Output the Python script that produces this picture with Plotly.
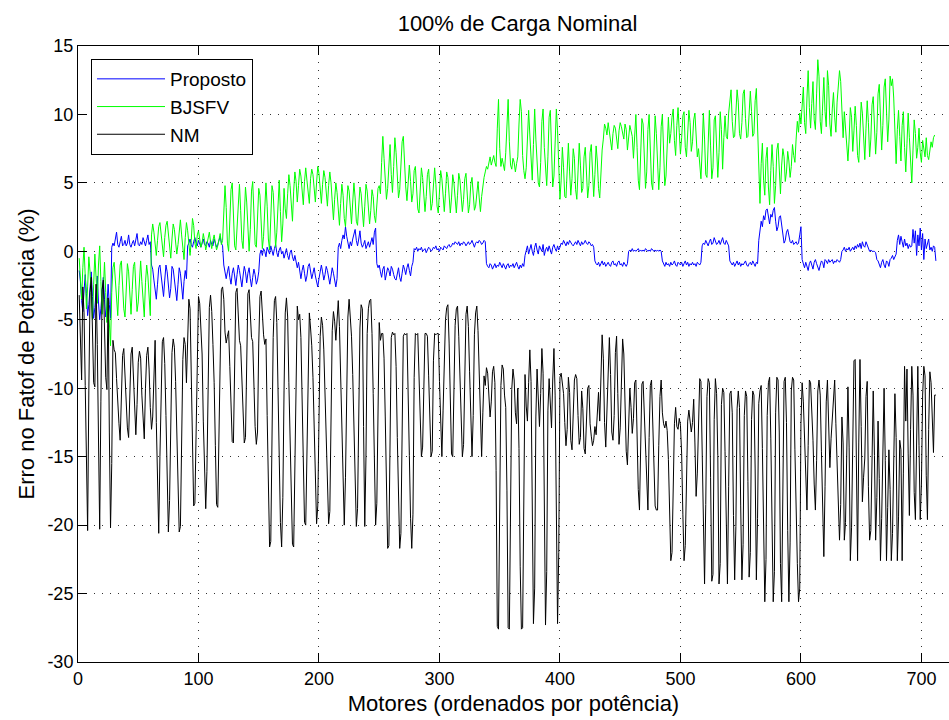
import plotly.graph_objects as go

TITLE = "100% de Carga Nominal"
XLABEL = "Motores (ordenados por potência)"
YLABEL = "Erro no Fatof de Potência (%)"
SERIES_NAMES = ["Proposto", "BJSFV", "NM"]
X_TICKS = [0, 100, 200, 300, 400, 500, 600, 700]
Y_TICKS = [-30, -25, -20, -15, -10, -5, 0, 5, 10, 15]
Y_TICK_LABELS = ["-30", "-25", "-20", "-15", "-10", "-5", "0", "5", "10", "15"]

proposto = [
    -1.4, -2.2, -3.6, -4.4, -2.9, -1.7, -3.1, -4.7, -3.9, -2.3,
    -1.5, -3.3, -4.9, -4.1, -2.6, -1.8, -3.7, -5.0, -4.2, -2.7,
    -1.9, -3.5, -4.8, -4.0, -2.4, -3.9, -4.9, 0.3, 0.6, 0.4,
    0.9, 1.4, 0.5, 0.3, 0.7, 1.1, 0.4, 0.5, 0.8, 0.4,
    0.6, 1.2, 0.5, 0.3, 0.6, 0.8, 0.4, 0.9, 1.3, 0.5,
    0.4, 0.7, 0.5, 1.0, 0.6, 0.4, 0.8, 1.2, 0.5, 0.7,
    -1.0, -1.3, -2.1, -3.0, -3.5, -2.4, -1.2, -1.0, -1.8, -2.6,
    -3.3, -2.1, -1.0, -1.5, -2.5, -3.4, -2.7, -1.1, -1.3, -2.2,
    -3.0, -3.6, -2.4, -1.2, -1.6, -2.8, -3.5, -2.2, -1.4, -2.0,
    0.4, 0.6, 0.9, 0.5, 0.3, 0.7, 1.0, 0.6, 0.4, 0.8,
    0.5, 0.3, 0.6, 0.9, 0.5, 0.4, 0.7, 0.6, 0.3, 0.8,
    0.5, 0.4, 0.9, 0.6, 0.3, 0.5, 0.8, 1.1, 0.6, 0.4,
    -1.0, -1.4, -2.0, -1.5, -1.1, -1.9, -2.4, -1.6, -1.2, -1.8,
    -2.5, -1.7, -1.0, -1.4, -2.2, -2.6, -1.8, -1.1, -1.5, -2.3,
    -1.6, -1.2, -2.0, -2.6, -1.9, -1.3, -1.7, -2.4, -2.1, -1.5,
    -0.2, 0.1, -0.3, 0.2, 0.0, -0.4, 0.3, 0.1, -0.2, 0.4,
    0.0, -0.3, 0.2, 0.5, -0.1, -0.4, 0.1, 0.3, -0.2, 0.0,
    -0.5, -0.2, 0.2, -0.3, -0.6, -0.1, 0.1, -0.4, -0.7, -0.3,
    -0.9, -1.2, -0.8, -1.5, -2.0, -1.4, -1.0, -1.6, -2.2, -1.8,
    -1.1, -0.9, -1.4, -2.0, -1.6, -1.2, -1.8, -2.3, -2.6, -2.0,
    -1.3, -1.0, -1.5, -2.1, -1.7, -1.1, -1.4, -2.0, -2.4, -1.8,
    -1.2, -1.6, -2.2, -2.6, -2.0, 0.3, 0.6, 0.2, 0.8, 1.2,
    0.9, 1.8, 1.1, 0.5, 0.2, 0.7, 0.4, 0.9, 1.3, 1.6,
    0.8, 0.4, 0.9, 1.5, 0.6, 0.3, 0.5, 0.8, 0.2, 0.4,
    0.7, 0.3, 0.6, 1.0, 0.5, 1.4, 1.7, -0.9, -1.2, -1.0,
    -1.5, -1.9, -1.3, -1.1, -2.1, -1.6, -1.2, -1.4, -1.8, -1.1,
    -1.3, -1.7, -2.0, -2.1, -1.5, -1.2, -1.9, -2.2, -1.6, -1.0,
    -1.3, -1.7, -1.2, -0.9, -1.4, -1.8, -1.1, -0.8, 0.2, 0.1,
    0.3, 0.0, 0.2, 0.1, 0.3, 0.0, 0.1, 0.2, -0.1, 0.1,
    0.3, 0.2, 0.0, 0.1, 0.3, 0.2, 0.4, 0.1, 0.2, 0.0,
    0.3, 0.2, 0.1, 0.4, 0.3, 0.2, 0.4, 0.5, 0.3, 0.4,
    0.6, 0.5, 0.7, 0.6, 0.5, 0.7, 0.4, 0.6, 0.5, 0.7,
    0.6, 0.4, 0.6, 0.7, 0.5, 0.6, 0.8, 0.5, 0.3, 0.6,
    0.7, 0.6, 0.8, 0.7, 0.5, 0.6, 0.8, 0.7, -0.9, -1.1,
    -1.2, -0.9, -1.0, -1.3, -1.1, -0.9, -1.2, -1.0, -1.1, -0.8,
    -1.0, -1.2, -0.9, -1.1, -1.3, -1.0, -0.9, -1.2, -1.0, -1.1,
    -0.9, -1.2, -1.0, -0.8, -1.1, -1.3, -1.0, -1.2, -0.9, -1.1,
    -0.3, 0.1, 0.4, -0.2, 0.2, 0.5, 0.0, -0.3, 0.3, 0.6,
    0.1, -0.2, 0.4, 0.2, 0.0, 0.5, -0.3, 0.1, 0.3, 0.0,
    0.4, 0.1, -0.2, 0.3, 0.5, 0.2, 0.0, 0.4, 0.1, 0.3,
    0.6, 0.5, 0.8, 0.6, 0.4, 0.7, 0.5, 0.8, 0.6, 0.5,
    0.4, 0.6, 0.7, 0.5, 0.8, 0.6, 0.4, 0.7, 0.5, 0.6,
    0.8, 0.6, 0.5, 0.7, 0.6, 0.4, 0.5, 0.3, -0.7, -0.9,
    -1.0, -0.8, -1.1, -0.9, -0.7, -1.0, -0.8, -1.1, -0.9, -0.8,
    -1.0, -1.1, -0.8, -0.7, -1.0, -0.9, -1.1, -0.8, -0.7, -1.0,
    -0.9, -1.1, -0.8, -1.0, -1.1, -0.9, 0.0, 0.1, 0.0, 0.2,
    0.0, 0.1, 0.0, 0.1, 0.2, 0.0, 0.1, 0.0, 0.1, 0.0,
    0.2, 0.1, 0.0, 0.1, 0.0, 0.2, 0.1, 0.0, 0.1, 0.0,
    0.1, 0.0, 0.1, 0.0, -0.7, -0.9, -1.1, -0.8, -1.0, -0.9,
    -1.1, -0.8, -1.0, -0.9, -0.7, -1.0, -1.1, -0.8, -0.9, -1.0,
    -0.8, -1.1, -0.9, -0.7, -1.0, -0.8, -1.1, -0.9, -1.0, -0.8,
    -1.0, -0.9, -1.1, -0.8, -0.9, -1.0, -0.8, 0.4, 0.6, 0.5,
    0.8, 0.6, 0.4, 0.7, 0.9, 0.5, 0.6, 1.0, 0.7, 0.5,
    0.6, 0.8, 0.5, 0.7, 1.0, 0.6, 0.5, 0.8, 0.6, 0.4,
    -0.7, -0.9, -1.0, -0.8, -1.1, -0.9, -0.7, -1.0, -0.8, -1.1,
    -0.9, -1.0, -0.8, -0.7, -1.0, -1.1, -0.9, -0.8, -1.0, -0.7,
    -0.9, -1.1, -0.8, -0.9, 0.8, 1.5, 2.2, 1.8, 2.6, 2.3,
    3.0, 3.1, 2.4, 2.0, 2.7, 2.5, 3.0, 3.2, 2.2, 1.5,
    1.8, 2.5, 2.6, 1.9, 1.2, 0.6, 0.8, 1.4, 1.6, 1.0,
    0.7, 0.6, 0.8, 0.5, 0.6, 0.7, 0.5, 0.6, 1.2, 1.8,
    -0.6, -0.9, -1.2, -0.8, -1.1, -1.4, -0.9, -0.7, -1.0, -1.3,
    -0.8, -0.6, -0.9, -1.1, -1.4, -1.0, -0.7, -0.8, -1.2, -0.6,
    -0.7, -0.9, -0.6, -0.8, -0.7, -0.6, -0.9, -0.7, -0.8, -0.6,
    -0.7, -0.8, -0.6, 0.0, 0.1, 0.3, 0.0, 0.2, 0.1, 0.3,
    0.0, 0.2, 0.3, 0.1, 0.4, 0.2, 0.5, 0.3, 0.6, 0.2,
    0.7, 0.4, 0.3, 0.7, 0.5, 0.2, 0.0, 0.1, 0.0, 0.0,
    0.0, -0.1, -0.6, -0.7, -0.9, -1.2, -0.8, -0.6, -1.0, -1.2,
    -0.7, -0.8, -1.1, -0.6, -0.5, -0.3, -0.6, -0.4, -0.2, 0.8,
    1.2, 0.5, 1.1, 0.7, 0.3, 0.9, 0.4, 0.6, 0.2, 0.5,
    0.3, 0.4, 1.6, 0.6, 1.5, -0.3, 1.2, 0.4, 1.7, 0.1,
    1.3, -0.6, 0.9, 0.2, 0.5, 0.9, 0.1, 0.3, 0.0, 0.4,
    0.3, -0.7,
]

bjsfv = [
    -0.5, -2.0, -3.5, -1.2, 0.3, -1.8, -4.2, -2.6, -0.4, -1.5,
    -3.3, -5.0, -2.4, -0.2, -1.9, -3.8, -1.0, 0.4, -2.2, -4.6,
    -2.8, -0.8, -3.0, -5.2, -3.5, -5.8, -6.9, -3.0, -1.2, -0.8,
    -2.0, -3.6, -4.7, -2.5, -1.0, -0.7, -2.4, -4.2, -4.8, -2.1,
    -0.9, -1.5, -3.1, -4.6, -2.8, -1.1, -0.8, -2.6, -4.4, -3.7,
    -1.6, -0.7, -2.2, -4.0, -4.8, -2.3, -1.0, -1.8, -3.5, -4.7,
    1.2, 2.0, 1.4, 0.6, -0.3, 0.8, 1.8, 2.1, 1.1, 0.2,
    -0.4, 1.0, 1.9, 2.2, 1.3, 0.4, -0.5, 0.9, 2.0, 1.6,
    0.7, -0.2, 0.5, 1.7, 2.3, 1.2, 0.3, -0.6, 1.0, 2.1,
    1.5, 0.5, -0.3, 0.8, 2.4, 1.9, 0.6, 0.2, 1.2, 1.5,
    0.9, 0.3, 0.6, 1.3, 0.8, 0.1, 0.5, 1.1, 1.4, 0.7,
    0.2, 0.8, 1.2, 0.6, 0.1, 0.4, 1.0, 1.3, 0.5, 0.8,
    2.8, 4.8, 3.2, 0.6, 0.0, 2.1, 4.5, 5.0, 2.6, 0.4,
    0.1, 1.8, 4.2, 4.9, 3.0, 0.8, 0.2, 2.5, 4.7, 3.6,
    1.2, 0.0, 1.6, 4.4, 5.1, 2.8, 0.5, 0.3, 2.2, 4.6,
    4.1, 1.6, 0.2, 1.1, 3.9, 5.0, 3.3, 0.9, 0.1, 2.4,
    4.8, 4.3, 1.8, 0.3, 1.4, 4.0, 5.2, 2.9, 0.7, 2.0,
    4.6, 3.1, 2.4, 4.2, 5.6, 4.8, 3.0, 2.2, 4.4, 5.8,
    5.1, 3.6, 4.8, 6.0, 5.5, 4.2, 3.4, 5.1, 6.1, 5.2,
    4.0, 3.5, 5.3, 6.0, 5.6, 4.4, 3.6, 5.0, 6.2, 5.7,
    4.6, 3.5, 4.9, 5.9, 5.4, 4.1, 3.3, 4.8, 5.8, 5.0,
    3.2, 2.3, 3.8, 5.0, 4.3, 2.6, 1.9, 3.5, 4.9, 4.1,
    2.4, 1.8, 3.2, 4.8, 4.4, 2.7, 2.0, 3.6, 5.0, 3.9,
    2.2, 1.9, 3.4, 4.7, 4.2, 2.5, 1.8, 3.3, 4.9, 4.4,
    2.8, 2.0, 3.0, 4.5, 4.0, 2.6, 2.1, 3.2, 4.6, 4.8,
    4.2, 6.5, 8.4, 6.8, 4.9, 3.8, 4.6, 6.9, 7.8, 5.6,
    4.3, 6.2, 8.3, 7.2, 5.1, 3.9, 4.5, 6.6, 8.0, 8.4,
    6.1, 4.7, 3.7, 4.9, 6.3, 5.1, 3.6, 4.2, 5.9, 6.2,
    4.8, 3.1, 2.8, 4.5, 6.1, 5.4, 3.7, 2.9, 4.0, 5.6,
    6.0, 4.4, 3.0, 3.5, 5.2, 6.1, 4.9, 3.3, 2.8, 4.6,
    5.9, 5.3, 3.6, 2.9, 4.2, 5.8, 5.4, 3.8, 2.8, 3.9,
    5.6, 5.0, 3.5, 2.8, 4.1, 5.7, 5.2, 3.6, 2.9, 3.8,
    5.3, 5.7, 4.0, 2.8, 3.4, 4.9, 5.4, 4.2, 3.0, 3.3,
    4.6, 5.1, 3.9, 2.9, 4.0, 5.0, 5.4, 5.8, 6.2, 6.0,
    6.6, 6.9, 6.3, 6.7, 7.0, 6.5, 6.2, 9.0, 11.1, 7.5,
    6.2, 6.8, 6.4, 5.9, 7.2, 9.5, 11.1, 8.0, 6.3, 6.0,
    6.8, 6.5, 5.8, 6.4, 6.9, 9.3, 11.1, 10.2, 7.0, 5.9,
    5.3, 6.1, 8.7, 10.3, 8.5, 6.4, 5.2, 7.8, 10.4, 8.2,
    6.1, 5.0, 4.7, 6.5, 9.5, 10.4, 7.6, 5.8, 4.8, 6.9,
    9.8, 10.3, 7.0, 4.7, 5.5, 8.6, 10.4, 8.8, 6.0, 3.8,
    5.2, 7.6, 6.1, 4.0, 3.9, 6.2, 7.9, 5.8, 4.1, 5.3,
    7.5, 6.8, 4.5, 3.8, 5.7, 7.9, 6.3, 4.3, 4.6, 6.9,
    7.6, 5.5, 3.9, 4.8, 7.2, 7.8, 5.2, 4.0, 5.6, 7.7,
    6.6, 4.6, 3.9, 5.8, 7.4, 8.2, 9.3, 9.0, 8.5, 9.4,
    8.7, 8.3, 7.4, 8.6, 9.2, 9.0, 8.4, 7.5, 8.8, 9.4,
    9.1, 8.5, 8.2, 9.3, 8.9, 7.4, 8.3, 9.2, 8.8, 8.4,
    6.8, 9.0, 10.0, 7.6, 5.2, 4.5, 6.9, 9.7, 9.3, 6.2,
    4.6, 5.8, 8.9, 10.0, 7.4, 5.0, 4.5, 7.3, 9.9, 8.6,
    5.7, 4.5, 6.1, 9.1, 10.0, 7.0, 4.8, 5.5, 8.4, 9.8,
    7.9, 8.6, 9.8, 10.4, 8.1, 7.0, 9.2, 10.5, 8.7, 7.1,
    8.3, 9.9, 10.2, 7.6, 6.9, 8.8, 10.3, 9.4, 7.3, 8.0,
    9.6, 10.1, 8.2, 6.9, 7.5, 6.0, 5.3, 7.4, 10.1, 8.2,
    5.6, 5.4, 8.5, 10.3, 7.7, 5.3, 6.1, 9.6, 9.9, 6.8,
    5.4, 7.2, 10.2, 8.9, 6.0, 8.3, 9.9, 8.4, 8.2, 10.1,
    11.2, 11.8, 9.5, 8.3, 8.4, 10.6, 11.8, 10.9, 8.6, 8.2,
    9.4, 11.5, 11.8, 9.7, 8.3, 8.4, 10.8, 11.7, 10.2, 8.4,
    8.6, 11.0, 11.9, 9.0, 7.6, 3.5, 6.4, 7.9, 5.2, 4.1,
    6.8, 7.6, 4.7, 3.4, 5.9, 7.8, 6.2, 3.5, 4.8, 7.4,
    7.9, 5.6, 4.2, 6.3, 7.5, 6.9, 5.1, 5.8, 7.3, 6.6,
    5.4, 6.2, 7.8, 7.0, 6.5, 8.2, 9.5, 8.7, 10.1, 9.3,
    10.6, 12.0, 9.4, 8.6, 11.2, 13.2, 10.5, 9.0, 10.8, 12.4,
    9.6, 8.9, 11.5, 14.0, 12.8, 9.5, 8.6, 10.3, 12.7, 10.2,
    9.1, 13.2, 12.1, 9.3, 8.4, 10.4, 11.6, 9.8, 8.7, 10.9,
    11.8, 13.2, 12.4, 10.3, 8.3, 10.2, 9.1, 7.5, 6.6, 8.2,
    10.5, 9.8, 7.3, 8.8, 10.6, 9.2, 7.0, 6.5, 8.9, 10.9,
    10.1, 7.8, 6.7, 9.0, 11.0, 9.4, 6.9, 8.2, 10.7, 11.3,
    9.0, 7.1, 8.7, 11.5, 12.2, 10.0, 7.4, 9.2, 12.0, 12.6,
    10.3, 8.0, 9.6, 12.8, 12.1, 12.6, 11.2, 7.8, 6.4, 8.9,
    10.3, 8.4, 6.6, 9.2, 10.2, 7.6, 5.8, 7.9, 10.1, 8.3,
    6.2, 5.0, 7.4, 9.6, 8.6, 6.8, 7.6, 9.0, 7.2, 6.5,
    8.1, 7.5, 6.9, 8.3, 7.0, 6.7, 7.4, 8.0, 7.6, 8.3,
    8.5,
]

nm = [
    -3.2, -5.8, -9.4, -2.6, -4.5, -9.8, -15.0, -20.4, -10.2, -3.0,
    -1.9, -5.2, -9.6, -9.9, -2.4, -6.8, -14.6, -20.3, -11.0, -2.8,
    -2.1, -4.9, -9.2, -10.1, -3.4, -13.2, -20.2, -15.5, -6.5, -7.2,
    -7.4, -9.3, -11.5, -12.6, -13.8, -10.4, -7.6, -7.1, -8.9, -11.8,
    -12.9, -13.6, -9.7, -7.5, -7.0, -9.2, -11.6, -13.4, -11.2, -8.1,
    -7.3, -7.8, -10.5, -12.8, -13.7, -10.0, -7.6, -7.0, -8.6, -11.4,
    -13.0, -12.1, -8.4, -6.5, -12.5, -17.8, -20.6, -15.0, -9.0, -6.6,
    -6.3, -8.2, -12.0, -16.4, -20.5, -18.2, -11.2, -7.4, -6.4, -7.0,
    -9.5, -13.8, -17.6, -20.5, -20.1, -13.0, -7.9, -6.3, -6.8, -9.6,
    -5.8, -3.5, -4.2, -9.0, -14.5, -18.6, -18.4, -12.2, -6.3, -3.3,
    -3.8, -6.0, -7.5, -12.4, -17.0, -18.8, -16.1, -8.8, -4.1, -3.2,
    -4.4, -6.8, -9.6, -14.2, -18.5, -18.7, -13.0, -6.2, -2.8, -2.6,
    -3.5, -5.9, -6.7, -6.2, -5.8, -8.4, -11.6, -13.9, -14.0, -8.2,
    -3.0, -2.7, -4.6, -6.5, -6.9, -9.1, -12.3, -14.0, -13.6, -7.4,
    -3.1, -2.8, -5.0, -6.3, -6.6, -9.8, -12.8, -14.1, -13.2, -6.7,
    -3.3, -2.9, -4.8, -6.1, -6.8, -6.4, -12.0, -18.5, -21.6, -21.2,
    -14.0, -6.3, -3.6, -3.3, -5.2, -10.6, -15.5, -19.8, -21.6, -18.0,
    -10.2, -4.5, -3.4, -4.8, -9.6, -14.2, -17.5, -21.4, -21.6, -15.1,
    -7.2, -4.0, -5.0, -4.6, -6.3, -10.8, -15.5, -19.8, -20.0, -14.7,
    -7.8, -4.5, -5.6, -6.9, -9.2, -13.5, -17.0, -19.9, -18.6, -12.0,
    -6.2, -4.8, -5.4, -7.2, -10.5, -14.8, -17.8, -19.9, -19.0, -11.4,
    -5.8, -4.4, -5.1, -6.5, -4.7, -3.6, -5.5, -9.2, -14.0, -18.3,
    -20.0, -16.5, -9.6, -4.8, -3.5, -4.9, -6.2, -9.0, -13.3, -17.2,
    -20.1, -18.8, -11.0, -5.6, -3.9, -4.2, -12.8, -20.1, -15.0, -6.0,
    -4.2, -3.6, -3.5, -6.0, -10.4, -16.2, -20.0, -18.4, -9.8, -5.2,
    -6.5, -6.0, -6.0, -7.8, -12.1, -17.9, -21.7, -21.5, -12.4, -6.3,
    -5.9, -6.1, -6.0, -8.4, -13.6, -18.8, -21.7, -20.6, -10.8, -6.2,
    -6.0, -6.1, -6.0, -9.6, -14.9, -19.5, -21.7, -19.2, -9.2, -6.0,
    -6.1, -6.0, -8.8, -12.4, -15.0, -14.3, -8.5, -6.0, -6.0, -6.2,
    -9.1, -12.8, -15.0, -14.6, -8.0, -6.0, -6.1, -6.0, -6.0, -9.5,
    -12.2, -15.0, -11.6, -7.3, -5.0, -4.1, -3.9, -6.7, -10.5, -14.8,
    -15.0, -9.8, -5.4, -4.2, -4.0, -6.2, -9.8, -13.3, -15.0, -14.1,
    -8.0, -4.6, -4.0, -5.5, -8.8, -12.6, -15.0, -12.0, -6.1, -4.5,
    -4.0, -5.8, -9.4, -13.2, -15.0, -11.8, -9.1, -9.8, -8.5, -8.9,
    -10.7, -12.1, -11.0, -8.8, -8.4, -9.6, -16.0, -27.4, -27.6, -19.0,
    -9.8, -8.3, -8.6, -10.5, -11.4, -17.5, -27.5, -27.6, -18.8, -10.1,
    -8.6, -9.4, -11.8, -12.6, -10.0, -14.4, -23.0, -27.6, -27.5, -16.2,
    -9.0, -11.3, -12.4, -9.6, -7.2, -9.5, -18.1, -27.2, -24.6, -12.1,
    -8.6, -10.7, -12.8, -10.4, -7.1, -8.9, -18.8, -27.3, -23.4, -11.6,
    -9.3, -11.2, -12.9, -9.4, -7.1, -10.5, -21.0, -27.2, -22.0, -9.2,
    -8.9, -9.6, -10.4, -12.5, -14.2, -13.0, -9.2, -10.3, -13.8, -14.5,
    -11.0, -9.4, -9.0, -9.3, -12.0, -14.1, -13.6, -10.2, -11.5, -14.4,
    -14.8, -12.0, -10.0, -9.8, -12.6, -13.5, -14.2, -13.8, -12.8, -13.4,
    -11.9, -10.3, -12.4, -9.0, -6.1, -7.8, -12.5, -14.3, -11.2, -8.6,
    -6.3, -9.0, -13.2, -13.8, -12.0, -7.4, -6.2, -10.4, -14.1, -12.9,
    -10.2, -6.4, -7.5, -12.2, -14.6, -15.6, -11.8, -10.0, -11.4, -13.3,
    -12.2, -9.6, -9.4, -13.8, -17.4, -18.9, -15.0, -9.7, -9.5, -11.8,
    -14.5, -17.0, -18.9, -13.6, -9.8, -9.4, -12.4, -15.7, -18.6, -18.9,
    -18.9, -14.2, -10.6, -9.4, -11.8, -12.6, -12.9, -12.4, -13.1, -15.2,
    -19.8, -22.6, -22.0, -16.0, -12.6, -11.4, -12.8, -13.0, -12.2, -12.7,
    -14.8, -19.2, -22.6, -21.5, -15.3, -12.4, -11.6, -12.3, -13.2, -12.5,
    -10.8, -14.0, -17.9, -16.2, -12.0, -9.3, -9.5, -14.8, -21.0, -24.3,
    -18.5, -10.6, -9.3, -9.6, -16.5, -24.1, -23.6, -12.3, -9.3, -10.4,
    -14.9, -24.3, -22.8, -11.2, -10.0, -10.3, -14.6, -20.8, -24.3, -17.2,
    -10.4, -10.2, -11.8, -19.3, -24.0, -20.1, -11.5, -10.2, -11.4, -18.6,
    -24.0, -21.4, -12.0, -10.2, -10.6, -16.8, -23.8, -22.0, -12.3, -10.2,
    -10.5, -15.9, -24.0, -19.5, -11.1, -10.2, -9.8, -14.4, -21.0, -25.6,
    -22.5, -12.0, -9.6, -9.2, -13.7, -20.6, -25.6, -23.4, -11.8, -9.2,
    -9.4, -13.2, -22.8, -25.6, -18.0, -9.5, -9.2, -12.5, -20.4, -25.6,
    -21.3, -10.2, -9.2, -9.4, -14.5, -19.2, -22.8, -25.6, -24.6, -12.6,
    -9.6, -11.0, -13.5, -16.7, -18.9, -14.2, -9.4, -9.6, -11.3, -13.8,
    -17.0, -18.9, -15.3, -10.2, -9.4, -10.5, -14.6, -19.3, -22.3, -17.2,
    -11.0, -9.4, -12.5, -15.8, -13.7, -12.2, -10.8, -9.4, -12.6, -15.9,
    -17.4, -21.1, -18.5, -12.1, -14.0, -21.1, -19.8, -13.5, -9.9, -14.3,
    -22.6, -20.2, -13.0, -8.0, -7.9, -16.5, -22.6, -14.0, -7.9, -12.8,
    -18.3, -16.5, -15.1, -10.6, -9.5, -17.2, -21.1, -20.4, -13.8, -10.2,
    -14.9, -21.1, -18.0, -12.4, -16.6, -22.6, -19.5, -14.2, -10.0, -15.3,
    -22.6, -18.7, -14.5, -17.4, -22.6, -20.6, -15.9, -10.4, -13.6, -22.6,
    -19.4, -13.8, -14.5, -22.6, -16.2, -8.4, -12.4, -8.6, -14.8, -19.3,
    -13.0, -8.4, -10.5, -17.6, -19.6, -12.3, -8.4, -14.2, -19.6, -17.0,
    -10.5, -8.4, -9.1, -16.4, -19.6, -13.0, -8.8, -9.6, -12.2, -14.7,
    -10.5, -10.5,
]

FONT = "Liberation Sans, Arial, sans-serif"
COLORS = ["#0000FF", "#00FF00", "#000000"]

fig = go.Figure()
for name, vals, col in zip(SERIES_NAMES, [proposto, bjsfv, nm], COLORS):
    fig.add_trace(go.Scatter(
        x=list(range(1, len(vals) + 1)), y=vals, mode="lines", name=name,
        line=dict(color=col, width=1),
    ))

W, H = 949, 720
ML, MR, MT, MB = 78, 0, 46, 58
plot_w = W - ML - MR
px_per_unit = 1.2049
xmax = plot_w / px_per_unit

axis_common = dict(
    showline=True, linecolor="black", linewidth=1,
    ticks="inside", ticklen=9, tickcolor="black", tickwidth=1,
    showgrid=True, gridcolor="#333333", gridwidth=1, griddash="1px,7px",
    zeroline=False, tickfont=dict(family=FONT, size=18, color="black"),
)

fig.update_layout(
    width=W, height=H,
    margin=dict(l=ML, r=MR, t=MT, b=MB, pad=0),
    paper_bgcolor="white", plot_bgcolor="white",
    title=dict(text=TITLE, x=517.5 / W, xref="container", xanchor="center",
               y=1 - 23 / H, yref="container", yanchor="middle",
               font=dict(family=FONT, size=22, color="black")),
    xaxis=dict(range=[0, xmax], tickvals=X_TICKS, mirror="ticks",
               title=dict(text=XLABEL, font=dict(family=FONT, size=22, color="black"), standoff=8),
               **axis_common),
    yaxis=dict(range=[-30, 15], tickvals=Y_TICKS, ticktext=Y_TICK_LABELS, mirror=False,
               title=dict(text=YLABEL, font=dict(family=FONT, size=22, color="black"), standoff=6),
               **axis_common),
    showlegend=True,
    legend=dict(x=(91 - ML) / plot_w, y=1 - (59 - MT) / (H - MT - MB),
                xanchor="left", yanchor="top",
                bgcolor="white", bordercolor="black", borderwidth=1,
                font=dict(family=FONT, size=19, color="black"),
                itemwidth=68, tracegroupgap=0),
)

fig.write_html("out.html")
